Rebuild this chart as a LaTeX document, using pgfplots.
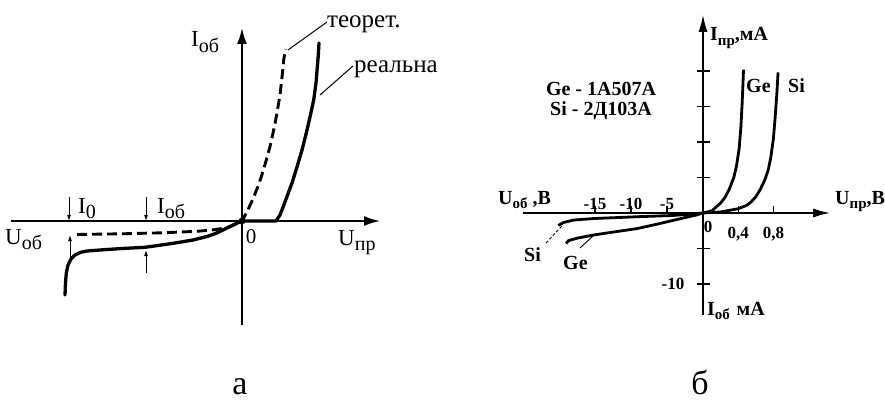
\documentclass[border=0pt]{standalone}
\usepackage{pgfplots}
\pgfplotsset{compat=1.18}
\usepackage{fontspec}
\setmainfont{Liberation Serif}
\usetikzlibrary{arrows.meta}

% lowered index for the axis symbols (U_об, I_пр, ...)
\newcommand{\sub}[2][15]{\raisebox{-0.22em}{\fontsize{#1}{#1}\selectfont #2}}

\begin{document}
\begin{tikzpicture}[x=1pt,y=-1pt]
\path[use as bounding box] (0,0) rectangle (885,412);

% ---------------- а: ideal and real diode characteristic ----------------
\begin{axis}[at={(242pt,-221pt)}, anchor=origin, x=1pt, y=1pt,
  xmin=-231, xmax=138, ymin=-104, ymax=193,
  axis lines=middle, ticks=none, enlargelimits=false, clip=false,
  axis line style={line width=1.8pt, -{Latex[length=16pt,width=10pt]}}]
% real characteristic
\addplot[line width=3.3pt, line join=round, line cap=round] coordinates {
 (-177,-74) (-176.5,-62) (-175.7,-52) (-174,-44) (-171,-38) (-167,-34)
 (-162,-31.5) (-155,-30) (-142,-29) (-120,-27.5) (-97,-26.3) (-70,-22.5)
 (-49,-19) (-35,-15.5) (-26,-12.3) (-17,-8) (-9,-4) (0,0) (34,0) (38,6)
 (43.7,21) (50,38) (55,54) (60,71) (64.3,88) (68,104) (71.7,121) (74,138)
 (75.3,154) (76.3,166) (77,178)};
% theoretical characteristic
\addplot[line width=2.9pt, dash pattern=on 10pt off 5pt] coordinates {
 (-165,-13.5) (-120,-12.8) (-80,-11.8) (-45,-10.3) (-30,-9) (-20,-7.5)
 (-12,-5.7) (-6,-3) (0,0) (5.9,11) (10.9,22) (15.9,34.3) (20.3,47.5)
 (24.3,61) (28,74.5) (31,87.7) (33.7,101) (36,114.3) (38,126) (39.3,137.7)
 (40.6,149.5) (41.7,161) (42.7,167) (43.7,172)};
\addplot[only marks, mark=*, mark size=3.2pt] coordinates {(0,0)};
\end{axis}

\begin{scope}[line width=1pt, >={Latex[length=6pt,width=4pt]}]
  \draw[->] (69,197) -- (69,221);
  \draw[->] (146,197) -- (146,221);
  \draw[->] (70,262) -- (70,235);
  \draw[->] (146,273) -- (146,250);
  \draw (288,50) -- (327,22);
  \draw (320,95) -- (353,66);
\end{scope}

\begin{scope}[every node/.style={inner sep=0pt, font=\fontsize{23}{23}\selectfont}]
  \node[anchor=base west] at (191,47) {I\sub[20]{об}};
  \node[anchor=base west] at (78,213) {I\sub[20]{0}};
  \node[anchor=base west] at (157,213) {I\sub[20]{об}};
  \node[anchor=base west] at (5,244) {U\sub[20]{об}};
  \node[anchor=base, font=\fontsize{21}{21}\selectfont] at (251,243) {0};
  \node[anchor=base west] at (338,245) {U\sub[20]{пр}};
  \node[anchor=base west, font=\fontsize{25}{25}\selectfont] at (327,28) {теорет.};
  \node[anchor=base west, font=\fontsize{25}{25}\selectfont] at (354,72) {реальна};
\end{scope}

% ---------------- б: germanium and silicon diodes ----------------
\begin{axis}[at={(703pt,-213pt)}, anchor=origin, x=1pt, y=7.1pt,
  x coord trafo/.code={\pgfmathparse{(#1<0)*(#1)*7.2+(#1>=0)*(#1)*88}},
  x coord inv trafo/.code={\pgfmathparse{(#1<0)*(#1)/7.2+(#1>=0)*(#1)/88}},
  xmin=-25, xmax=1.445, ymin=-14.4, ymax=27.9,
  axis lines=middle, enlargelimits=false, clip=false,
  axis line style={line width=1.6pt, -{Latex[length=17pt,width=9pt]}},
  tick align=center, major tick length=13pt,
  tick style={line width=1.3pt, black},
  xtick style={/pgfplots/major tick length=7pt, yshift=3.5pt},
  xtick={-15,-10,-5}, xticklabels={-15,-10,-5},
  xticklabel style={anchor=base, inner sep=0pt, yshift=10pt},
  extra x ticks={0.4,0.8}, extra x tick labels={{0,4},{0,8}},
  extra x tick style={xticklabel style={yshift=-29pt}},
  ytick={-5,5,10,15,20}, yticklabels={},
  extra y ticks={-10}, extra y tick labels={-10},
  extra y tick style={yticklabel style={anchor=east, inner sep=0pt, xshift=-12pt}},
  tick label style={font=\bfseries\fontsize{17}{17}\selectfont}]
% germanium 1А507А
\addplot[line width=2.8pt, line join=round] coordinates {
 (-19.0,-4.3) (-18.7,-3.9) (-17.5,-3.55) (-15.2,-3.1) (-12.9,-2.75)
 (-9.2,-2.2) (-6.5,-1.6) (-4.2,-1.05) (-2.5,-0.65) (-1,-0.3) (0,0)
 (0.1,0.3) (0.2,1.4) (0.25,2.2) (0.3,3.4) (0.35,5.0) (0.38,6.6) (0.41,9.0)
 (0.43,12) (0.445,15.5) (0.455,18.5) (0.46,20.2)};
% silicon 2Д103А
\addplot[line width=2.8pt, line join=round] coordinates {
 (-20.1,-1.75) (-19.4,-1.35) (-18,-1.0) (-15.2,-0.78) (-9,-0.52)
 (-4.2,-0.35) (-2,-0.18) (0,0) (0.2,0.15) (0.4,0.6) (0.5,1.1) (0.55,1.6)
 (0.6,2.3) (0.65,3.3) (0.7,4.6) (0.74,6.0) (0.77,7.8) (0.8,10.5)
 (0.82,13.5) (0.84,17) (0.853,19.8)};
\end{axis}

\draw[line width=0.9pt, dash pattern=on 3pt off 2pt] (546,243) -- (562,226);
\draw[line width=0.9pt] (580,248) -- (593,236);

\begin{scope}[every node/.style={inner sep=0pt, font=\bfseries\fontsize{20}{20}\selectfont}]
  \node[anchor=base west] at (710,41) {I\sub{пр},мА};
  \node[anchor=base] at (601,95) {Ge - 1А507А};
  \node[anchor=base] at (601,115) {Si - 2Д103А};
  \node[anchor=base west] at (746,92) {Ge};
  \node[anchor=base west] at (788,92) {Si};
  \node[anchor=base west] at (498,204) {U\sub{об} ,В};
  \node[anchor=base west] at (835,204) {U\sub{пр},В};
  \node[anchor=base west] at (707,315) {I\sub{об}\,\,мА};
  \node[anchor=base west] at (524,261) {Si};
  \node[anchor=base west] at (563,269) {Ge};
  \node[anchor=base, font=\bfseries\fontsize{17}{17}\selectfont] at (708,232) {0};
\end{scope}

% captions
\node[anchor=base, inner sep=0pt, font=\fontsize{34}{34}\selectfont] at (240,394) {а};
\node[anchor=base, inner sep=0pt, font=\fontsize{34}{34}\selectfont] at (700,394) {б};
\end{tikzpicture}
\end{document}
